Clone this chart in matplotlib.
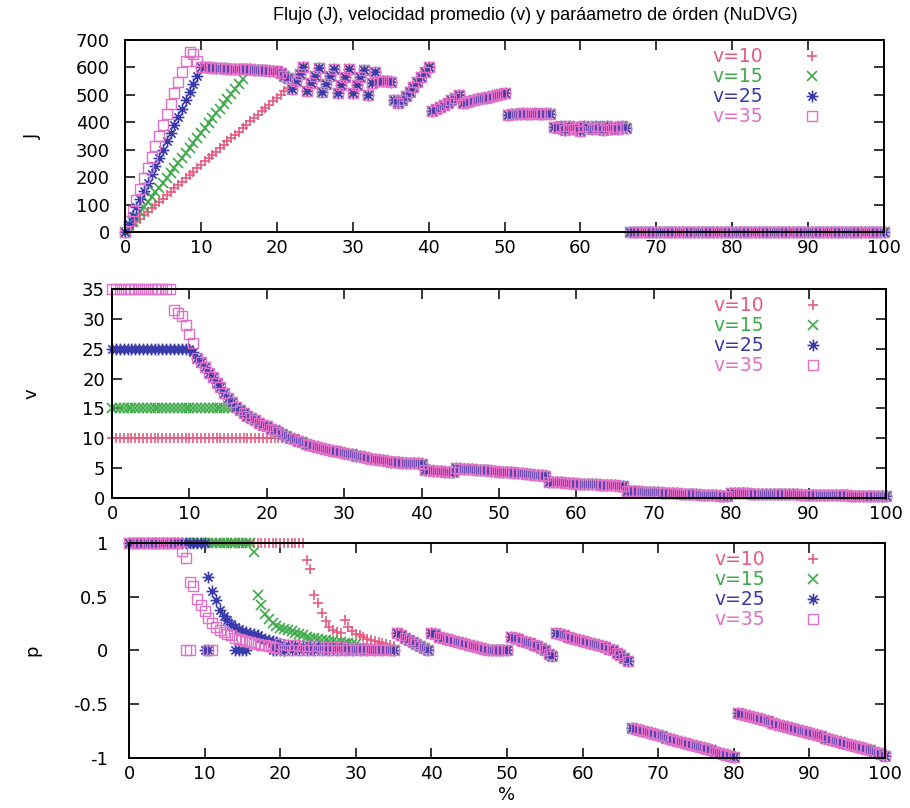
import numpy as np
import matplotlib

matplotlib.use("Agg")
import matplotlib.pyplot as plt
from matplotlib.path import Path

# densidad (%) en pasos de 0.5
X = np.arange(0, 100.5, 0.5)

LABELS = ["v=10", "v=15", "v=25", "v=35"]
COLORS = ["#e85a80", "#3faa4a", "#3a3aaa", "#e070c8"]
# asterisco tipo gnuplot (+ y x superpuestos)
STAR = Path([(-1, 0), (1, 0), (0, -1), (0, 1),
             (-0.7, -0.7), (0.7, 0.7), (-0.7, 0.7), (0.7, -0.7)],
            [Path.MOVETO, Path.LINETO] * 4)
MARKERS = ["+", "x", STAR, "s"]
SIZES = [7.5, 6.5, 8.5, 6.6]
WIDTHS = [1.2, 1.2, 1.2, 1.0]

# ---- flujo J: tramo inicial propio de cada serie, luego tramo comun (desde x=10)
J10_HEAD = [0, 12, 25, 37, 49, 61, 73, 86, 98, 110, 122, 134, 147, 159, 171,
            183, 196, 208, 220, 232, 244, 257, 269, 281, 293, 305, 318, 330,
            342, 354, 366, 379, 391, 403, 415, 427, 440, 452, 464, 476, 488,
            501, 513, 525]
J15_HEAD = [0, 18, 36, 54, 72, 90, 108, 126, 144, 162, 180, 198, 216, 234, 252,
            270, 288, 306, 324, 342, 360, 378, 396, 414, 432, 450, 468, 486,
            504, 522, 540, 558]
J25_HEAD = [0, 30, 60, 90, 120, 150, 180, 210, 240, 270, 300, 330, 360, 390,
            420, 450, 480, 510, 540, 570]
J35_HEAD = [0, 39, 78, 117, 156, 195, 234, 273, 312, 351, 390, 429, 468, 507,
            546, 585, 624, 655, 650, 625]
J_TAIL = ([602, 600, 600, 599, 598, 598, 597, 596, 596, 595, 595, 594, 594,
           593, 592, 592, 590, 590, 588, 588, 586, 580, 570, 560]
          + [520, 550, 575, 600, 515, 545, 570, 598, 510, 540, 568, 596, 505,
             535, 565, 595, 505, 535, 565, 592]
          + [500, 545, 585, 552, 550, 550, 548, 480]
          + [470, 482, 495, 512, 530, 548, 565, 582, 600]
          + [440, 448, 456, 464, 472, 480, 490, 500]
          + [470, 473, 476, 480, 484, 487, 490, 493, 496, 499, 502, 505]
          + [428, 430, 431, 430, 432, 431, 430, 432, 431, 430, 432, 430]
          + [382, 378, 385, 372, 388, 376, 383, 370, 386, 379, 374, 387, 380,
             372, 385, 377, 382, 374, 386, 378]
          + [0] * 68)

# ---- velocidad promedio v (tramo comun desde x=10)
V10_HEAD = [10] * 46
V15_HEAD = [15] * 32
V25_HEAD = [25] * 20
V35_HEAD = [35] * 16 + [31.5, 31.0, 30.5, 29.0, 27.5, 26.0]
V_TAIL = ([25.0, 24.5, 23.5, 22.8, 22.0, 21.0, 20.2, 19.3, 18.5, 17.6, 16.8,
           16.0, 15.3, 14.8, 14.3, 13.8, 13.4, 13.0, 12.6, 12.3, 12.0, 11.6,
           11.3, 11.0, 10.7, 10.4, 10.1, 9.8, 9.5, 9.3, 9.1, 8.9, 8.7, 8.5,
           8.4, 8.2, 8.1, 7.9, 7.8, 7.7, 7.6, 7.4, 7.3, 7.1, 7.0, 6.8, 6.7,
           6.6, 6.5, 6.4, 6.3, 6.2, 6.1, 6.0, 6.0, 5.9, 5.9, 5.8, 5.8, 5.8, 5.7]
          + [4.6, 4.6, 4.5, 4.5, 4.5, 4.4, 4.4, 4.4]
          + [5.0, 4.9, 4.9, 4.8, 4.8, 4.7, 4.7, 4.6, 4.6, 4.5, 4.5, 4.4, 4.4,
             4.3, 4.3, 4.2, 4.2, 4.1, 4.0, 4.0, 3.9, 3.9, 3.8, 3.7]
          + [2.7, 2.7, 2.6, 2.6, 2.5, 2.5, 2.5, 2.4, 2.4, 2.4, 2.3, 2.3, 2.3,
             2.2, 2.2, 2.2, 2.1, 2.1, 2.0, 2.0]
          + [1.2, 1.17, 1.14, 1.1, 1.07, 1.04, 1.0, 0.97, 0.94, 0.9, 0.87,
             0.84, 0.8, 0.77, 0.74, 0.7, 0.67, 0.64, 0.6, 0.57, 0.54, 0.5,
             0.47, 0.44, 0.41, 0.38, 0.35]
          + [0.8, 0.79, 0.78, 0.76, 0.75, 0.74, 0.73, 0.71, 0.7, 0.69, 0.68,
             0.66, 0.65, 0.64, 0.63, 0.61, 0.6, 0.59, 0.58, 0.56, 0.55, 0.54,
             0.53, 0.51, 0.5, 0.49, 0.48, 0.46, 0.45, 0.44, 0.43, 0.41, 0.4,
             0.39, 0.38, 0.36, 0.35, 0.34, 0.33, 0.31, 0.3])

# ---- parametro de orden p (tramo comun desde x=20)
P10_HEAD = [1.0] * 47 + [0.84, 0.76, 0.52, 0.44, 0.35, 0.27, 0.22, 0.19, 0.17,
                         0.16, 0.28, 0.22, 0.18, 0.15, 0.14, 0.13, 0.11, 0.1,
                         0.09, 0.08, 0.07, 0.06, 0.05, 0.04]
P15_HEAD = [1.0] * 33 + [0.92, 0.52, 0.42, 0.34, 0.29, 0.26, 0.23, 0.21, 0.2,
                         0.19, 0.18, 0.16, 0.15, 0.14, 0.13, 0.12, 0.12, 0.11,
                         0.1, 0.1, 0.09, 0.09, 0.08, 0.08, 0.07, 0.07, 0.06,
                         0.06]
P25_HEAD = [1.0] * 21 + [0.68, 0.55, 0.47, 0.38, 0.32, 0.28, 0.25, 0.22, 0.2,
                         0.18, 0.17, 0.16, 0.15, 0.14, 0.12, 0.11, 0.1, 0.09,
                         0.08]
P35_HEAD = [1.0] * 14 + [0.93, 0.86, 0.64, 0.6, 0.48, 0.42, 0.37, 0.3, 0.26,
                         0.22, 0.19, 0.17, 0.15, 0.14, 0.12, 0.11, 0.1, 0.09,
                         0.08, 0.07, 0.06, 0.05, 0.05, 0.04, 0.03, 0.02]
P_TAIL = ([0.06, 0.0, 0.05, 0.0, 0.05, 0.0, 0.04, 0.0, 0.04, 0.0, 0.04, 0.0,
           0.03, 0.0, 0.03, 0.0, 0.03, 0.0, 0.02, 0.0, 0.02, 0.0, 0.02, 0.0,
           0.01, 0.0, 0.01, 0.0, 0.01, 0.0, 0.0]
          + [0.16, 0.14, 0.12, 0.1, 0.08, 0.06, 0.04, 0.02, 0.0]
          + [0.16, 0.15, 0.13, 0.12, 0.11, 0.1, 0.09, 0.08, 0.07, 0.06, 0.05,
             0.04, 0.03, 0.02, 0.01]
          + [0.0] * 6
          + [0.13, 0.12, 0.11, 0.09, 0.08, 0.07, 0.05, 0.04, 0.02, 0.0, -0.03,
             -0.05]
          + [0.16, 0.15, 0.14, 0.13, 0.12, 0.11, 0.1, 0.09, 0.08, 0.07, 0.06,
             0.05, 0.04, 0.03, 0.01, 0.0, -0.02, -0.04, -0.07, -0.1]
          + [-0.72, -0.73, -0.74, -0.75, -0.76, -0.77, -0.78, -0.79, -0.8,
             -0.81, -0.82, -0.83, -0.84, -0.85, -0.86, -0.87, -0.88, -0.89,
             -0.9, -0.91, -0.92, -0.93, -0.94, -0.95, -0.96, -0.97, -0.98,
             -0.99]
          + [-0.58, -0.59, -0.6, -0.61, -0.62, -0.63, -0.64, -0.65, -0.66,
             -0.67, -0.68, -0.69, -0.7, -0.71, -0.72, -0.73, -0.74, -0.75,
             -0.76, -0.77, -0.78, -0.79, -0.8, -0.81, -0.82, -0.83, -0.84,
             -0.85, -0.86, -0.87, -0.88, -0.89, -0.9, -0.91, -0.92, -0.93,
             -0.94, -0.95, -0.96, -0.98])
# puntos sueltos en p=0 durante la transicion
P_ZERO_X = [[], [], [10.0, 10.5, 14.0, 14.5, 15.0, 15.5, 19.0, 19.5, 20.0, 20.5],
            [7.5, 8.0, 10.5, 11.0]]


def join(head, tail, start):
    ys = head + tail[len(head) - int(start * 2):]
    assert len(ys) == len(X), len(ys)
    return np.array(ys)


J = [join(h, J_TAIL, 10) for h in (J10_HEAD, J15_HEAD, J25_HEAD, J35_HEAD)]
V = [join(h, V_TAIL, 10) for h in (V10_HEAD, V15_HEAD, V25_HEAD, V35_HEAD)]
P = [join(h, P_TAIL, 20) for h in (P10_HEAD, P15_HEAD, P25_HEAD, P35_HEAD)]

plt.rcParams.update({
    "font.family": "DejaVu Sans", "font.size": 13,
    "axes.linewidth": 1.4,
    "xtick.direction": "in", "ytick.direction": "in",
    "xtick.top": True, "ytick.right": True,
    "xtick.major.size": 7, "ytick.major.size": 7,
    "xtick.major.width": 1.1, "ytick.major.width": 1.1,
})

fig = plt.figure(figsize=(9.1, 8.08), dpi=100)
ax1 = fig.add_axes([0.1374, 0.7129, 0.834, 0.2376])
ax2 = fig.add_axes([0.1231, 0.3837, 0.8505, 0.2587])
ax3 = fig.add_axes([0.1418, 0.0619, 0.8308, 0.2661])


def draw(ax, series, extra=None):
    for i, ys in enumerate(series):
        style = dict(linestyle="none", marker=MARKERS[i], ms=SIZES[i],
                     mew=WIDTHS[i], color=COLORS[i], mfc="none", clip_on=False)
        ax.plot(X, ys, label=LABELS[i], **style)
        if extra and extra[i]:
            ax.plot(extra[i], [0] * len(extra[i]), **style)
    ax.set_xlim(0, 100)
    ax.set_xticks(range(0, 101, 10))
    ax.legend(loc="upper right", bbox_to_anchor=(0.925, 1.0), frameon=False,
              markerfirst=False, handlelength=0.8, handletextpad=2.2,
              labelspacing=0.05, borderaxespad=0, labelcolor="linecolor",
              fontsize=13.5)


draw(ax1, J)
ax1.set_ylim(0, 700)
ax1.set_yticks(range(0, 701, 100))
ax1.set_ylabel("J")
ax1.yaxis.set_label_coords(-0.11, 0.5)
ax1.tick_params(axis="y", pad=11)

draw(ax2, V)
ax2.set_ylim(0, 35)
ax2.set_yticks(range(0, 36, 5))
ax2.set_ylabel("v")
ax2.yaxis.set_label_coords(-0.092, 0.5)
ax2.tick_params(axis="y", pad=5)

draw(ax3, P, P_ZERO_X)
ax3.set_ylim(-1, 1)
ax3.set_yticks([-1, -0.5, 0, 0.5, 1])
ax3.set_yticklabels(["-1", "-0.5", "0", "0.5", "1"])
ax3.set_ylabel("p")
ax3.yaxis.set_label_coords(-0.116, 0.5)
ax3.tick_params(axis="y", pad=15)
ax3.set_xlabel("%", labelpad=2)

for ax in (ax1, ax2, ax3):
    ax.tick_params(axis="x", pad=5)

fig.text(0.588, 1 - 16 / 808,
         "Flujo (J), velocidad promedio (v) y paráametro de órden (NuDVG)",
         ha="center", va="center", fontsize=13, family="Liberation Sans")

fig.savefig("out.png", dpi=100)
